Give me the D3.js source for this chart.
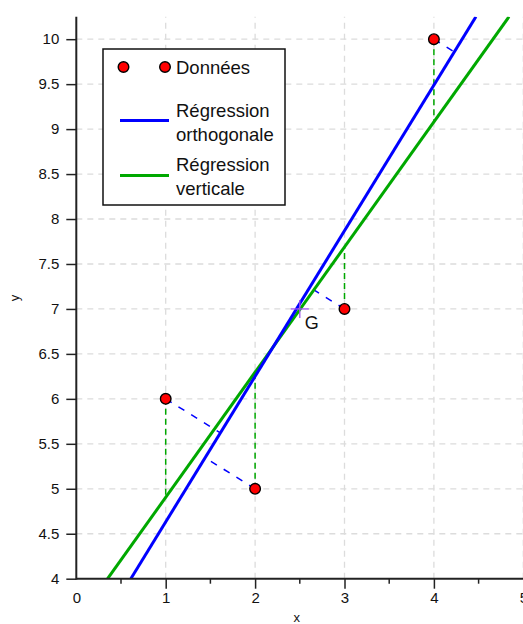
<!DOCTYPE html>
<html>
<head>
<meta charset="utf-8">
<script src="https://cdn.jsdelivr.net/npm/d3@7"></script>
<style>
  html, body { margin: 0; padding: 0; background: #fff; }
  svg { display: block; font-family: "Liberation Sans", Arial, Helvetica, sans-serif; }
</style>
</head>
<body>
<svg id="chart" width="523" height="624"></svg>
<script>
'use strict';

// data
const pointsX = [1, 2, 3, 4];
const pointsY = [6, 5, 7, 10];
const centre = [2.5, 7];
const orthoLine = [[0.61, 4], [4.47, 10.25]];
const vertLine = [[0.35, 4], [4.84, 10.25]];
const xTicks = [0, 1, 2, 3, 4, 5];
const xMinorTicks = [0.5, 1.5, 2.5, 3.5, 4.5];
const yTicks = [4, 4.5, 5, 5.5, 6, 6.5, 7, 7.5, 8, 8.5, 9, 9.5, 10];
const legendLabels = ['Données', 'Régression\northogonale', 'Régression\nverticale'];

const BLUE = '#0000ff',
      GREEN = '#00a800';

const svg = d3.select('#chart');

const x = d3.scaleLinear().domain([0, 5]).range([76.3, 523.3]);
const y = d3.scaleLinear().domain([4, 10.25]).range([578.7, 16.7]);

const lineAt = (seg, xv) => {
  const [[x1, y1], [x2, y2]] = seg;
  return y1 + (xv - x1) * (y2 - y1) / (x2 - x1);
};

const footOn = (seg, [px, py]) => {
  const [[x1, y1], [x2, y2]] = seg;
  const dx = x2 - x1, dy = y2 - y1;
  const t = ((px - x1) * dx + (py - y1) * dy) / (dx * dx + dy * dy);
  return [x1 + t * dx, y1 + t * dy];
};

svg.append('clipPath').attr('id', 'plot')
  .append('rect')
  .attr('x', x(0)).attr('y', y(10.25))
  .attr('width', x(5) - x(0)).attr('height', y(4) - y(10.25));

// grid
const grid = svg.append('g')
  .attr('stroke', '#dcdcdc')
  .attr('stroke-width', 1.3)
  .attr('stroke-dasharray', '6,5');

grid.selectAll('line.h')
  .data(yTicks.filter(d => d > 4))
  .join('line')
  .attr('class', 'h')
  .attr('x1', x(0)).attr('x2', x(5))
  .attr('y1', d => y(d)).attr('y2', d => y(d));

grid.selectAll('line.v')
  .data(xTicks.filter(d => d > 0))
  .join('line')
  .attr('class', 'v')
  .attr('x1', d => x(d)).attr('x2', d => x(d))
  .attr('y1', y(4)).attr('y2', y(10.25));

const plot = svg.append('g').attr('clip-path', 'url(#plot)');

const points = pointsX.map((px, i) => [px, pointsY[i]]);

// vertical residuals
plot.selectAll('line.vres')
  .data(points)
  .join('line')
  .attr('class', 'vres')
  .attr('x1', d => x(d[0])).attr('y1', d => y(d[1]))
  .attr('x2', d => x(d[0])).attr('y2', d => y(lineAt(vertLine, d[0])))
  .attr('stroke', GREEN)
  .attr('stroke-width', 1.5)
  .attr('stroke-dasharray', '6,4');

// orthogonal residuals
plot.selectAll('line.ores')
  .data(points)
  .join('line')
  .attr('class', 'ores')
  .attr('x1', d => x(d[0])).attr('y1', d => y(d[1]))
  .attr('x2', d => x(footOn(orthoLine, d)[0]))
  .attr('y2', d => y(footOn(orthoLine, d)[1]))
  .attr('stroke', BLUE)
  .attr('stroke-width', 1.5)
  .attr('stroke-dasharray', '7,8');

const line = d3.line().x(d => x(d[0])).y(d => y(d[1]));

plot.append('path')
  .attr('d', line(vertLine))
  .attr('stroke', GREEN)
  .attr('stroke-width', 3)
  .attr('fill', 'none');

plot.append('path')
  .attr('d', line(orthoLine))
  .attr('stroke', BLUE)
  .attr('stroke-width', 3)
  .attr('fill', 'none');

// centre G
const cross = svg.append('g')
  .attr('stroke', '#a050f0')
  .attr('stroke-width', 1.3);
cross.append('line')
  .attr('x1', x(centre[0]) - 9).attr('x2', x(centre[0]) + 9)
  .attr('y1', y(centre[1])).attr('y2', y(centre[1]));
cross.append('line')
  .attr('x1', x(centre[0])).attr('x2', x(centre[0]))
  .attr('y1', y(centre[1]) - 9).attr('y2', y(centre[1]) + 9);

svg.append('text')
  .attr('x', x(centre[0]) + 5)
  .attr('y', y(centre[1]) + 20)
  .attr('font-size', 18)
  .attr('fill', '#111')
  .text('G');

// data points
svg.selectAll('circle.pt')
  .data(points)
  .join('circle')
  .attr('class', 'pt')
  .attr('cx', d => x(d[0])).attr('cy', d => y(d[1]))
  .attr('r', 5.3)
  .attr('fill', '#ff0000')
  .attr('stroke', '#000')
  .attr('stroke-width', 1.4);

// axes
const xAxis = svg.append('g')
  .attr('transform', `translate(0,${y(4)})`)
  .call(d3.axisBottom(x).tickValues(xTicks).tickSize(10).tickPadding(4).tickFormat(d3.format('d')));
xAxis.selectAll('.tick')
  .filter(d => d === 0)
  .select('line').remove();
xAxis.selectAll('.tick line').attr('stroke-width', 1.5).attr('stroke', '#222');
xAxis.selectAll('.tick text').attr('font-size', 15).attr('fill', '#111').attr('font-family', null);
xAxis.select('.domain').remove();

svg.append('g')
  .attr('transform', `translate(0,${y(4)})`)
  .selectAll('line')
  .data(xMinorTicks)
  .join('line')
  .attr('x1', d => x(d)).attr('x2', d => x(d))
  .attr('y1', 0).attr('y2', 5)
  .attr('stroke', '#222')
  .attr('stroke-width', 1.5);

const yAxis = svg.append('g')
  .attr('transform', `translate(${x(0)},0)`)
  .call(d3.axisLeft(y).tickValues(yTicks).tickSize(10).tickPadding(7).tickFormat(d3.format('')));
yAxis.selectAll('.tick line').attr('stroke-width', 1.5).attr('stroke', '#222');
yAxis.selectAll('.tick text').attr('font-size', 15).attr('fill', '#111').attr('font-family', null);
yAxis.select('.domain').remove();

svg.append('line')
  .attr('x1', x(0)).attr('x2', x(5))
  .attr('y1', y(4)).attr('y2', y(4))
  .attr('stroke', '#222').attr('stroke-width', 2);
svg.append('line')
  .attr('x1', x(0)).attr('x2', x(0))
  .attr('y1', y(4) + 1).attr('y2', y(10.25))
  .attr('stroke', '#222').attr('stroke-width', 2);

svg.append('text')
  .attr('x', (x(0) + x(5)) / 2 - 3)
  .attr('y', 622)
  .attr('text-anchor', 'middle')
  .attr('font-size', 13)
  .attr('fill', '#111')
  .text('x');

svg.append('text')
  .attr('transform', 'translate(19,298) rotate(-90)')
  .attr('text-anchor', 'middle')
  .attr('font-size', 13)
  .attr('fill', '#111')
  .text('y');

// legend
const legend = svg.append('g');
legend.append('rect')
  .attr('x', 103).attr('y', 49)
  .attr('width', 182).attr('height', 156)
  .attr('fill', '#fff')
  .attr('stroke', '#111')
  .attr('stroke-width', 1.5);

legend.selectAll('circle')
  .data([123.5, 165])
  .join('circle')
  .attr('cx', d => d).attr('cy', 67)
  .attr('r', 5.3)
  .attr('fill', '#ff0000')
  .attr('stroke', '#000')
  .attr('stroke-width', 1.4);

legend.selectAll('line')
  .data([{ c: BLUE, y: 120.5 }, { c: GREEN, y: 175.5 }])
  .join('line')
  .attr('x1', 120).attr('x2', 169)
  .attr('y1', d => d.y).attr('y2', d => d.y)
  .attr('stroke', d => d.c)
  .attr('stroke-width', 3);

const labelY = [73.5, 117, 171];
legend.selectAll('text')
  .data(legendLabels)
  .join('text')
  .attr('x', 176)
  .attr('y', (d, i) => labelY[i])
  .attr('font-size', 18.5)
  .attr('fill', '#111')
  .each(function (d) {
    const t = d3.select(this);
    d.split('\n').forEach((s, k) => {
      t.append('tspan')
        .attr('x', 176)
        .attr('dy', k === 0 ? 0 : 24)
        .text(s);
    });
  });
</script>
</body>
</html>
